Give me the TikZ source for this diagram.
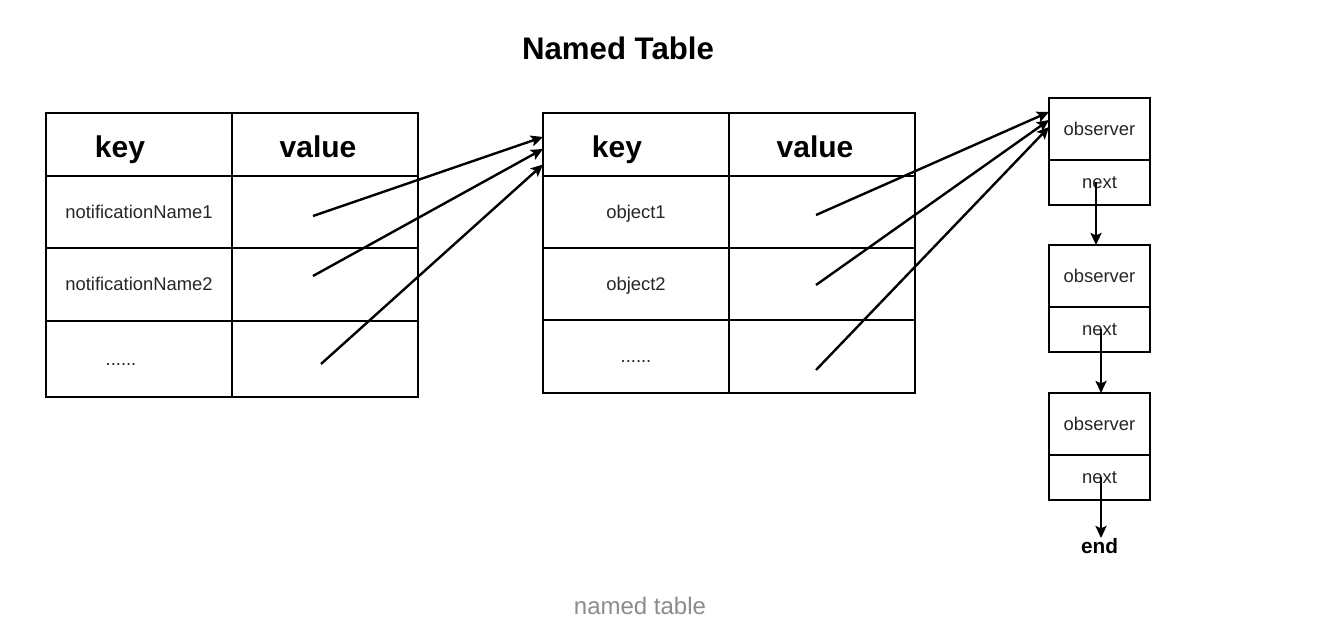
\documentclass[tikz,border=0pt]{standalone}
\usepackage{fontspec}
\setmainfont{Liberation Sans}
\usetikzlibrary{arrows.meta, positioning}
\definecolor{capgray}{HTML}{8C8C8C}

\begin{document}
\begin{tikzpicture}[x=0.5pt, y=-0.5pt,
  cell/.style={rectangle, draw, line width=1.2pt, outer sep=0pt, inner sep=0pt,
               minimum width=93pt, minimum height=36pt, text=black!85,
               text height=7.2pt, text depth=0.8pt,
               font=\fontsize{9.2}{11}\selectfont},
  head/.style={cell, minimum height=31.5pt, text=black,
               text height=14pt, text depth=1pt,
               font=\fontsize{15}{18}\selectfont\bfseries},
  obs/.style={cell, minimum width=50.5pt, minimum height=31pt},
  nxt/.style={obs, minimum height=22.5pt},
  arrow/.style={-{Stealth[length=6pt, width=5.5pt, inset=1.2pt]}, line width=1.2pt}
]
  \useasboundingbox[fill=white] (0,0) rectangle (1332,640);

  \node[font=\fontsize{15.6}{18}\selectfont\bfseries] (title) at (618,48) {Named Table};

  % first table: notification name -> object table
  \node[head, anchor=north west] (k1h) at (46,113) {key\hspace*{19pt}};
  \node[head, right=0pt of k1h] (v1h) {value\hspace*{7pt}};
  \node[cell, below=0pt of k1h] (k11) {notificationName1};
  \node[cell, below=0pt of v1h] (v11) {};
  \node[cell, below=0pt of k11, minimum height=36.5pt] (k12) {notificationName2};
  \node[cell, below=0pt of v11, minimum height=36.5pt] (v12) {};
  \node[cell, below=0pt of k12, minimum height=38pt] (k13) {......\hspace*{18pt}};
  \node[cell, below=0pt of v12, minimum height=38pt] (v13) {};

  % second table: object -> observer list
  \node[head, anchor=north west] (k2h) at (543,113) {key\hspace*{19pt}};
  \node[head, right=0pt of k2h] (v2h) {value\hspace*{7pt}};
  \node[cell, below=0pt of k2h] (k21) {object1};
  \node[cell, below=0pt of v2h] (v21) {};
  \node[cell, below=0pt of k21] (k22) {object2};
  \node[cell, below=0pt of v21] (v22) {};
  \node[cell, below=0pt of k22, minimum height=36.5pt] (k23) {......};
  \node[cell, below=0pt of v22, minimum height=36.5pt] (v23) {};

  % linked observers
  \node[obs, anchor=north west] (o1) at (1049,98) {observer};
  \node[nxt, below=0pt of o1] (n1) {next};
  \node[obs, below=20pt of n1] (o2) {observer};
  \node[nxt, below=0pt of o2] (n2) {next};
  \node[obs, below=20.5pt of n2] (o3) {observer};
  \node[nxt, below=0pt of o3] (n3) {next};
  \node[inner sep=0pt, below=19pt of n3, font=\fontsize{10.4}{12}\selectfont\bfseries] (tail) {end};

  \coordinate (a1) at ([shift={(-12,4)}]v11.center);
  \coordinate (a2) at ([shift={(-12,-8.5)}]v12.center);
  \coordinate (a3) at ([shift={(-4,5)}]v13.center);
  \coordinate (b1) at ([shift={(-6,3)}]v21.center);
  \coordinate (b2) at ([shift={(-6,1)}]v22.center);
  \coordinate (b3) at ([shift={(-6,13.5)}]v23.center);

  \draw[arrow] (a1) -- ([yshift=3.75pt]k2h.west);
  \draw[arrow] (a2) -- ([yshift=-2.25pt]k2h.west);
  \draw[arrow] (a3) -- ([yshift=-10pt]k2h.west);

  \draw[arrow] (b1) -- ([yshift=8.5pt]o1.west);
  \draw[arrow] (b2) -- ([yshift=4.5pt]o1.west);
  \draw[arrow] (b3) -- ([yshift=1pt]o1.west);

  \draw[arrow] ([xshift=-1.75pt]n1.center) -- ([xshift=-1.75pt]n1.center |- o2.north);
  \draw[arrow] ([xshift=0.75pt]n2.center) -- ([xshift=0.75pt]n2.center |- o3.north);
  \draw[arrow] ([xshift=0.75pt]n3.center) -- ([xshift=0.75pt]n3.center |- tail.north);

  \node[font=\fontsize{12}{14}\selectfont, text=capgray] (caption) at (640,606) {named table};
\end{tikzpicture}
\end{document}
